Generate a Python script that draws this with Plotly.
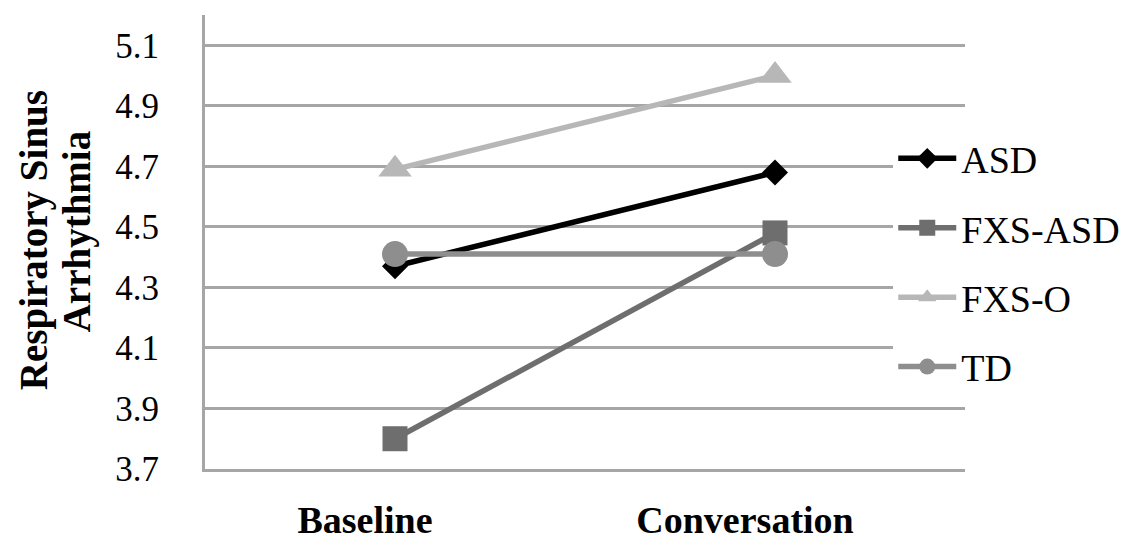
import plotly.graph_objects as go

categories = ["Baseline", "Conversation"]
series_names = ["ASD", "FXS-ASD", "FXS-O", "TD"]
asd = [4.37, 4.68]
fxs_asd = [3.80, 4.48]
fxs_o = [4.69, 5.00]
td = [4.41, 4.41]

y_ticks = [3.7, 3.9, 4.1, 4.3, 4.5, 4.7, 4.9, 5.1]
y_title_lines = ["Respiratory Sinus", "Arrhythmia"]

values = [asd, fxs_asd, fxs_o, td]
colors = ["#000000", "#6e6e6e", "#b7b7b7", "#8e8e8e"]
symbols = ["diamond", "square", "triangle-up", "circle"]
sizes = [20, 25, 29, 26]

serif = "Liberation Serif, Times New Roman, serif"

fig = go.Figure()
for name, vals, col, sym, sz in zip(series_names, values, colors, symbols, sizes):
    fig.add_trace(go.Scatter(
        x=categories, y=vals, name=name, mode="lines+markers",
        line=dict(color=col, width=5.5),
        marker=dict(symbol=sym, size=sz, color=col, line=dict(width=0)),
        legendgroup=name,
    ))

# two-line y-axis title with tight line spacing (as in the reference)
title_pos = [(-0.225, 0.504), (-0.168, 0.522)]
for txt, (tx, ty) in zip(y_title_lines, title_pos):
    fig.add_annotation(
        text=txt, xref="paper", yref="paper", x=tx, y=ty,
        xanchor="center", yanchor="middle", textangle=-90, showarrow=False,
        font=dict(family=serif, size=39, color="black", weight="bold"),
    )

fig.update_layout(
    width=1142, height=542,
    margin=dict(l=205, r=177, t=15, b=73),
    paper_bgcolor="white", plot_bgcolor="white",
    showlegend=True,
    legend=dict(
        x=0.9056, y=0.753, xanchor="left", yanchor="top",
        bgcolor="white", borderwidth=0,
        font=dict(family=serif, size=38, color="black"),
        traceorder="grouped", tracegroupgap=17,
        itemwidth=58,
    ),
    xaxis=dict(
        type="category", range=[-0.5, 1.5], automargin=False,
        showgrid=False, showline=True, linecolor="#a6a6a6", linewidth=3,
        ticks="", ticklabelshift=-30, ticklabelstandoff=15,
        tickfont=dict(family=serif, size=38, color="black", weight="bold"),
    ),
    yaxis=dict(
        range=[3.7, 5.2], tickvals=y_ticks, ticktext=[f"{v:.1f}" for v in y_ticks],
        automargin=False,
        showgrid=True, gridcolor="#a6a6a6", gridwidth=3,
        showline=True, linecolor="#a6a6a6", linewidth=3,
        ticks="", ticklabelstandoff=36, zeroline=False,
        tickfont=dict(family=serif, size=35, color="black"),
    ),
)

fig.write_html("out.html", config={"displayModeBar": False},
               post_script="document.body.style.margin='0px';")
